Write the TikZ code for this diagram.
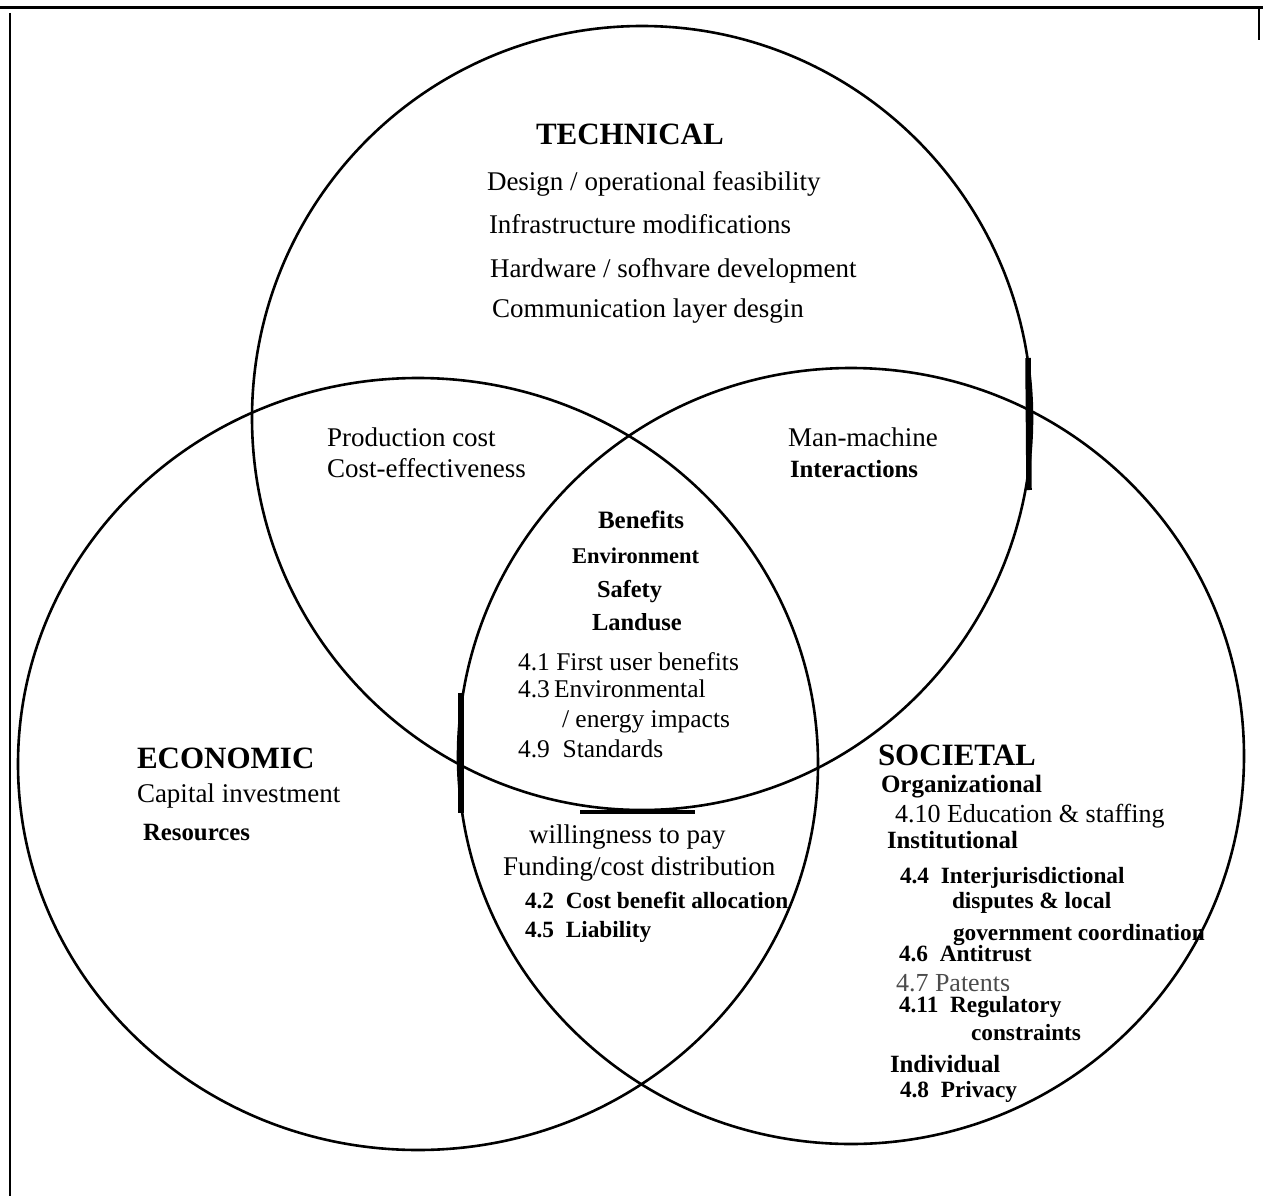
\documentclass[tikz,border=0pt]{standalone}
\usepackage{fontspec}
\setmainfont{Liberation Serif}

\tikzset{
  ring/.style={draw, line width=2.6pt},
  rule/.style={line width=2.2pt},
  smear/.style={line width=5.5pt},
  lbl/.style={anchor=base west, inner sep=0pt, outer sep=0pt},
  body/.style={lbl, font=\fontsize{27}{31}\selectfont},
  head/.style={lbl, font=\fontsize{31}{36}\selectfont\bfseries},
  mid/.style={lbl, font=\fontsize{24.8}{29}\selectfont\bfseries},
  item/.style={lbl, font=\fontsize{23.3}{27}\selectfont\bfseries},
  core/.style={lbl, font=\fontsize{25.5}{29}\selectfont},
}

\begin{document}
\begin{tikzpicture}[x=1pt, y=-1pt]
  \useasboundingbox (0,0) rectangle (1263,1196);

  % page frame
  \draw[rule, line width=3pt] (0,8) -- (1263,8);
  \draw[rule] (10,13) -- (10,1196);
  \draw[rule] (1259,8) -- (1259,40);

  % the three sets
  \draw[ring] (642,418) ellipse [x radius=390, y radius=392];
  \draw[ring] (418,764) ellipse [x radius=400, y radius=386];
  \draw[ring] (851,756) ellipse [x radius=393, y radius=388];

  % heavy strokes on the outlines
  \draw[smear] (1028,358) -- (1029,490);
  \draw[smear, line width=6pt] (461,693) -- (461,813);
  \draw[smear, line width=3.5pt] (580,812) -- (695,812);

  % technical
  \node[head] (tech) at (536,145) {TECHNICAL};
  \node[body] (t1) at (487,190) {Design / operational feasibility};
  \node[body] (t2) at (489,233) {Infrastructure modifications};
  \node[body] (t3) at (490,277) {Hardware / sofhvare development};
  \node[body] (t4) at (492,317) {Communication layer desgin};

  % technical / economic
  \node[body] (te1) at (327,446) {Production cost};
  \node[body] (te2) at (327,477) {Cost-effectiveness};

  % technical / societal
  \node[body] (ts1) at (788,446) {Man-machine};
  \node[mid] (ts2) at (790,477) {Interactions};

  % all three
  \node[mid, font=\fontsize{25}{28}\selectfont\bfseries] (c1) at (598,528) {Benefits};
  \node[mid, font=\fontsize{22.5}{28}\selectfont\bfseries] (c2) at (572,563) {Environment};
  \node[mid, font=\fontsize{24.4}{28}\selectfont\bfseries] (c3) at (597,597) {Safety};
  \node[mid, font=\fontsize{24.5}{28}\selectfont\bfseries] (c4) at (592,630) {Landuse};
  \node[core] (c5) at (518,670) {4.1 First user benefits};
  \node[core] (c6) at (518,697) {4.3\,Environmental};
  \node[core] (c7) at (562,727) {/ energy impacts};
  \node[core] (c8) at (518,757) {4.9~~Standards};

  % economic
  \node[head] (econ) at (137,768) {ECONOMIC};
  \node[body] (e1) at (137,802) {Capital investment};
  \node[mid] (e2) at (143,840) {Resources};

  % economic / societal
  \node[body] (es1) at (529,843) {willingness to pay};
  \node[body] (es2) at (503,875) {Funding/cost distribution};
  \node[item] (es3) at (525,908) {4.2~~Cost benefit allocation};
  \node[item] (es4) at (525,937) {4.5~~Liability};

  % societal
  \node[head] (soc) at (878,765) {SOCIETAL};
  \node[mid, font=\fontsize{25}{29}\selectfont\bfseries] (s1) at (881,792) {Organizational};
  \node[body, font=\fontsize{26}{30}\selectfont] (s2) at (895,822) {4.10 Education \& staffing};
  \node[mid] (s3) at (887,848) {Institutional};
  \node[item] (s4) at (900,883) {4.4~~Interjurisdictional};
  \node[item] (s5) at (952,908) {disputes \& local};
  \node[item] (s6) at (953,940) {government coordination};
  \node[item] (s7) at (899,961) {4.6~~Antitrust};
  \node[body, font=\fontsize{26}{30}\selectfont, text=black!70] (s8) at (896,991) {4.7 Patents};
  \node[item] (s9) at (899,1012) {4.11~~Regulatory};
  \node[item] (s10) at (971,1040) {constraints};
  \node[mid] (s11) at (890,1072) {Individual};
  \node[item] (s12) at (900,1097) {4.8~~Privacy};
\end{tikzpicture}
\end{document}
